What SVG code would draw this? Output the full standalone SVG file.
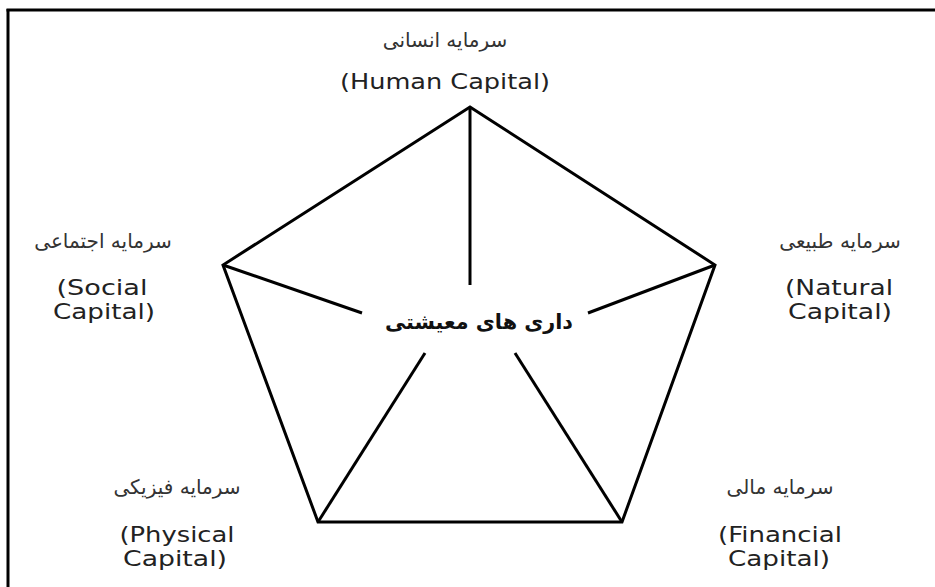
<svg xmlns="http://www.w3.org/2000/svg" width="935" height="587" viewBox="0 0 935 587">
<style>
.fa{font-family:"DejaVu Sans","Noto Sans",sans-serif;font-size:20px;fill:#333;text-anchor:middle;direction:rtl}
.en{font-family:"Comic Sans MS","DejaVu Sans",sans-serif;font-size:21px;fill:#222;text-anchor:middle}
.center{font-family:"DejaVu Sans","Noto Sans",sans-serif;font-size:21px;font-weight:bold;fill:#111;text-anchor:middle;direction:rtl}
.ln{stroke:#000;stroke-width:3;fill:none;stroke-linejoin:miter;stroke-linecap:butt}
</style>
<rect width="935" height="587" fill="#fff"/>
<g id="frame">
<line x1="6.5" y1="10" x2="935" y2="10" stroke="#000" stroke-width="3"/>
<line x1="8" y1="9" x2="8" y2="587" stroke="#000" stroke-width="3"/>
</g>
<g id="connectors">
<polygon class="ln" points="470,107 715,265 622,522 318,522 223,265"/>
<line class="ln" x1="470" y1="107" x2="470" y2="285"/>
<line class="ln" x1="223" y1="265" x2="362" y2="313"/>
<line class="ln" x1="715" y1="265" x2="588" y2="313"/>
<line class="ln" x1="318" y1="522" x2="425" y2="353"/>
<line class="ln" x1="622" y1="522" x2="515" y2="353"/>
</g>
<g id="center">
<text class="center" x="479" y="329" textLength="188" lengthAdjust="spacingAndGlyphs">داری های معیشتی</text>
</g>
<g id="human">
<text class="fa" x="445" y="47">سرمایه انسانی</text>
<text class="en" x="445" y="89" textLength="210" lengthAdjust="spacingAndGlyphs">(Human Capital)</text>
</g>
<g id="social">
<text class="fa" x="103" y="248">سرمایه اجتماعی</text>
<text class="en" x="102" y="295" textLength="91" lengthAdjust="spacingAndGlyphs">(Social</text>
<text class="en" x="104" y="319" textLength="102" lengthAdjust="spacingAndGlyphs">Capital)</text>
</g>
<g id="natural">
<text class="fa" x="840" y="248">سرمایه طبیعی</text>
<text class="en" x="839" y="295" textLength="108" lengthAdjust="spacingAndGlyphs">(Natural</text>
<text class="en" x="840" y="319" textLength="104" lengthAdjust="spacingAndGlyphs">Capital)</text>
</g>
<g id="physical">
<text class="fa" x="177" y="494">سرمایه فیزیکی</text>
<text class="en" x="177" y="542" textLength="115" lengthAdjust="spacingAndGlyphs">(Physical</text>
<text class="en" x="175" y="566" textLength="104" lengthAdjust="spacingAndGlyphs">Capital)</text>
</g>
<g id="financial">
<text class="fa" x="780" y="494">سرمایه مالی</text>
<text class="en" x="780" y="542" textLength="124" lengthAdjust="spacingAndGlyphs">(Financial</text>
<text class="en" x="779" y="566" textLength="102" lengthAdjust="spacingAndGlyphs">Capital)</text>
</g>
</svg>
